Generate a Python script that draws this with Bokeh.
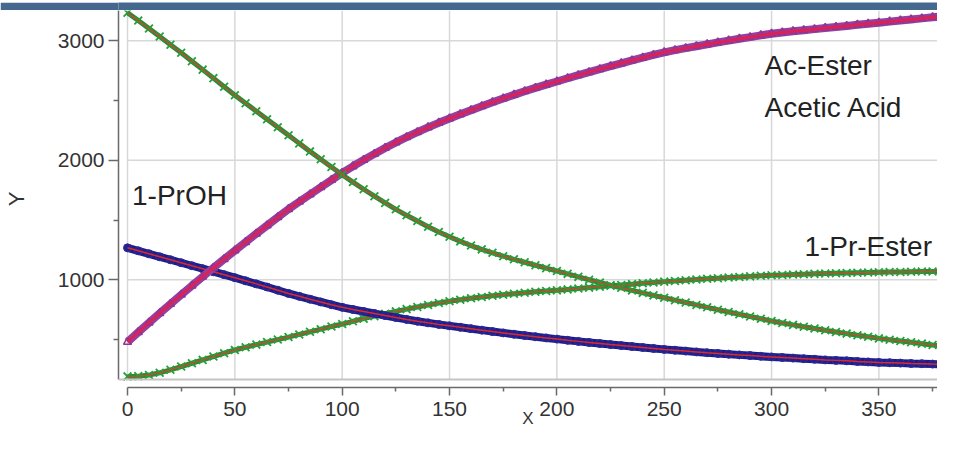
from bokeh.plotting import figure
from bokeh.layouts import column
from bokeh.models import FixedTicker, Span, Label
from bokeh.embed import file_html
from bokeh.resources import INLINE

# ---------------- data ----------------
x_vals = [0, 5, 10, 15, 20, 25, 30, 35, 40, 45, 50, 55, 60, 65, 70, 75, 80, 85, 90, 95,
          100, 105, 110, 115, 120, 125, 130, 135, 140, 145, 150, 155, 160, 165, 170, 175,
          180, 185, 190, 195, 200, 205, 210, 215, 220, 225, 230, 235, 240, 245, 250, 255,
          260, 265, 270, 275, 280, 285, 290, 295, 300, 305, 310, 315, 320, 325, 330, 335,
          340, 345, 350, 355, 360, 365, 370, 375, 380, 385]

# rising top curve (Ac-Ester / Acetic Acid)
acid_rise = [480, 561, 641, 720, 798, 875, 951, 1026, 1100, 1173, 1245, 1316, 1386, 1455,
             1524, 1592, 1653, 1714, 1775, 1835, 1895, 1950, 2003, 2054, 2103, 2150, 2194,
             2236, 2276, 2314, 2350, 2385, 2420, 2453, 2486, 2518, 2548, 2578, 2606, 2634,
             2660, 2687, 2713, 2738, 2763, 2788, 2812, 2836, 2859, 2882, 2904, 2922, 2939,
             2955, 2971, 2987, 3002, 3017, 3031, 3046, 3060, 3070, 3080, 3089, 3098, 3107,
             3116, 3125, 3134, 3143, 3152, 3161, 3170, 3179, 3188, 3197, 3206, 3214]

# falling green curve
green_fall = [3235, 3170, 3103, 3036, 2968, 2900, 2830, 2759, 2688, 2616, 2545, 2478, 2411,
              2344, 2277, 2210, 2142, 2075, 2009, 1944, 1880, 1818, 1758, 1700, 1644, 1590,
              1540, 1492, 1445, 1401, 1360, 1322, 1287, 1255, 1226, 1198, 1172, 1147, 1122,
              1098, 1074, 1050, 1025, 1001, 978, 955, 933, 912, 891, 870, 850, 830, 810, 790,
              770, 750, 731, 712, 693, 674, 655, 639, 623, 608, 593, 578, 564, 550, 537, 523,
              510, 499, 488, 477, 466, 455, 445, 436]

# 1-PrOH (blue)
proh = [1268, 1243, 1218, 1193, 1168, 1143, 1118, 1093, 1068, 1043, 1018, 992, 966, 940, 913,
        886, 862, 838, 815, 792, 770, 752, 735, 718, 701, 685, 669, 654, 640, 627, 615, 603,
        591, 579, 567, 556, 545, 534, 524, 514, 504, 494, 485, 476, 467, 458, 450, 442, 434,
        426, 418, 411, 404, 397, 390, 384, 378, 372, 366, 360, 355, 350, 345, 340, 335, 330,
        326, 322, 317, 313, 309, 306, 303, 300, 298, 295, 293, 290]

# 1-Pr-Ester (green, rising)
pr_ester = [192, 194, 203, 222, 247, 274, 302, 330, 358, 386, 413, 436, 458, 479, 500, 521,
            543, 565, 587, 609, 630, 653, 675, 696, 717, 736, 755, 773, 790, 806, 821, 834,
            846, 856, 866, 875, 884, 892, 900, 906, 912, 920, 928, 935, 943, 950, 957, 964,
            971, 978, 985, 991, 997, 1003, 1009, 1014, 1019, 1024, 1029, 1034, 1038, 1041,
            1044, 1047, 1050, 1053, 1055, 1057, 1059, 1061, 1063, 1065, 1066, 1068, 1069,
            1070, 1071, 1072]

x_ticks = [0, 50, 100, 150, 200, 250, 300, 350]
x_minor = [25, 75, 125, 175, 225, 275, 325, 375]
y_ticks = [1000, 2000, 3000]
y_minor = [500, 1500, 2500]

FONT = "Liberation Sans"
X_START, X_END = -4.2, 377.3
Y_START, Y_END = 99, 3254
Y_FLOOR = 166

# ---------------- header bar ----------------
header = figure(width=937, height=10, toolbar_location=None, output_backend="svg",
                x_axis_location=None, y_axis_location=None, min_border=0,
                x_range=(0, 1), y_range=(0, 1),
                outline_line_color=None,
                background_fill_color="#45688e", border_fill_color="#45688e")
header.grid.visible = False

# ---------------- main plot ----------------
p = figure(width=937, height=424, toolbar_location=None, output_backend="svg",
           x_range=(X_START, X_END), y_range=(Y_START, Y_END),
           min_border_top=0, min_border_right=0, min_border_left=118,
           min_border_bottom=47, outline_line_color=None,
           background_fill_color="white", border_fill_color="white")
p.grid.visible = False

# grid lines
p.segment(x0=x_ticks, y0=[Y_FLOOR] * len(x_ticks), x1=x_ticks, y1=[Y_END] * len(x_ticks),
          line_color="#d8d8d8", line_width=1.5)
p.segment(x0=[0] * len(y_ticks), y0=y_ticks, x1=[X_END] * len(y_ticks), y1=y_ticks,
          line_color="#d8d8d8", line_width=1.5)
p.add_layout(Span(location=Y_FLOOR, dimension="width", line_color="#c4c4c4", line_width=2))

GREEN_BAND = "#2a8a3a"
GREEN_MARK = "#22a23a"
GREEN_FIT = "#b5532c"

# 1-Pr-Ester (green rising)
p.line(x_vals, pr_ester, line_color=GREEN_BAND, line_width=5)
p.scatter(x_vals, pr_ester, marker="x", size=11, line_color=GREEN_MARK, line_width=1.8)
p.line(x_vals, pr_ester, line_color=GREEN_FIT, line_width=1.5)

# 1-PrOH (blue)
p.line(x_vals, proh, line_color="#1d1d86", line_width=8)
p.scatter(x_vals, proh, marker="circle", size=8, fill_color="#22228f",
          line_color="#2c2ca0", line_width=1)
p.line(x_vals, proh, line_color="#e02828", line_width=1.5)

# rising top curve (magenta)
p.line(x_vals, acid_rise, line_color="#9440a0", line_width=8)
p.scatter(x_vals, acid_rise, marker="triangle", size=8, fill_color=None,
          line_color="#8e3596", line_width=1.5)
p.line(x_vals, acid_rise, line_color="#dc2255", line_width=3)

# falling green curve
p.line(x_vals, green_fall, line_color=GREEN_BAND, line_width=5)
p.scatter(x_vals, green_fall, marker="x", size=11, line_color=GREEN_MARK, line_width=1.8)
p.line(x_vals, green_fall, line_color=GREEN_FIT, line_width=1.5)

# curve labels
label_style = dict(text_font=FONT, text_font_size="28px", text_color="#222222",
                   text_baseline="alphabetic")
p.add_layout(Label(x=2.1, y=1705, text="1-PrOH", **label_style))
p.add_layout(Label(x=296.7, y=2793, text="Ac-Ester", **label_style))
p.add_layout(Label(x=296.7, y=2439, text="Acetic Acid", **label_style))
p.add_layout(Label(x=315.3, y=1281, text="1-Pr-Ester", **label_style))

# axes
xa = p.xaxis[0]
xa.ticker = FixedTicker(ticks=x_ticks, minor_ticks=x_minor)
xa.bounds = (0, 400)
xa.axis_label = "X"
ya = p.yaxis[0]
ya.ticker = FixedTicker(ticks=y_ticks, minor_ticks=y_minor)
ya.bounds = (Y_FLOOR, 3400)
ya.axis_label = "Y"

for ax in (xa, ya):
    ax.axis_line_color = "#6a6a6a"
    ax.axis_line_width = 1.5
    ax.major_tick_line_color = "#6a6a6a"
    ax.major_tick_line_width = 1.5
    ax.minor_tick_line_color = "#6a6a6a"
    ax.minor_tick_line_width = 1.5
    ax.major_tick_in = 0
    ax.minor_tick_in = 0
    ax.major_label_text_font = FONT
    ax.major_label_text_font_size = "21px"
    ax.major_label_text_color = "#333333"
    ax.axis_label_text_font = FONT
    ax.axis_label_text_color = "#333333"
    ax.axis_label_text_font_style = "normal"

xa.major_tick_out = 8
xa.minor_tick_out = 4
xa.major_label_standoff = 6
xa.axis_label_text_font_size = "17px"
xa.axis_label_standoff = -10

ya.major_tick_out = 10
ya.minor_tick_out = 5
ya.major_label_standoff = 4
ya.axis_label_text_font_size = "22px"
ya.axis_label_standoff = 26

layout = column(header, p)
open("out.html", "w").write(file_html(layout, INLINE))
